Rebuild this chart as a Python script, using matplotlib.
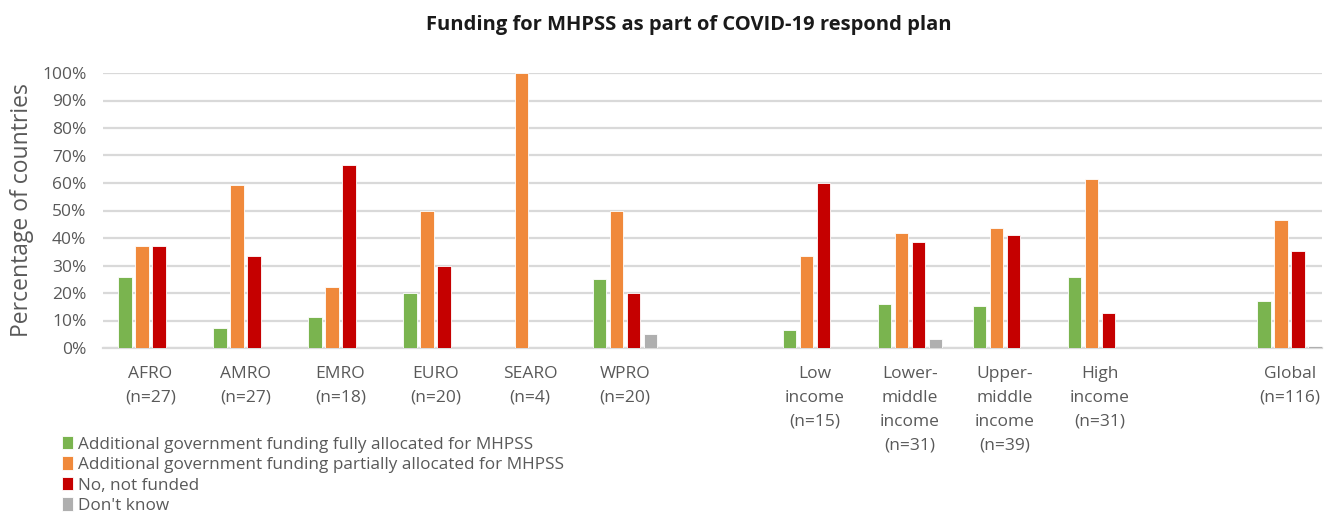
import matplotlib
matplotlib.use("Agg")
import matplotlib.pyplot as plt
import numpy as np

# categories ('' = empty spacer slot)
categories = ["AFRO\n(n=27)", "AMRO\n(n=27)", "EMRO\n(n=18)", "EURO\n(n=20)",
              "SEARO\n(n=4)", "WPRO\n(n=20)", "",
              "Low\nincome\n(n=15)", "Lower-\nmiddle\nincome\n(n=31)",
              "Upper-\nmiddle\nincome\n(n=39)", "High\nincome\n(n=31)", "",
              "Global\n(n=116)"]

series_names = ["Additional government funding fully allocated for MHPSS",
                "Additional government funding partially allocated for MHPSS",
                "No, not funded",
                "Don't know"]

# percentages (None for spacer slots)
fully = [25.9, 7.4, 11.1, 20.0, 0, 25.0, None, 6.7, 16.1, 15.4, 25.8, None, 17.2]
partially = [37.0, 59.3, 22.2, 50.0, 100.0, 50.0, None, 33.3, 41.9, 43.6, 61.3, None, 46.6]
not_funded = [37.0, 33.3, 66.7, 30.0, 0, 20.0, None, 60.0, 38.7, 41.0, 12.9, None, 35.3]
dont_know = [0, 0, 0, 0, 0, 5.0, None, 0, 3.2, 0, 0, None, 0.9]

colors = ["#7AB44F", "#F0893B", "#C50000", "#AFAFAF"]

plt.rcParams['font.family'] = ['Open Sans', 'DejaVu Sans']

fig = plt.figure(figsize=(13.25, 5.14), dpi=100)
ax = fig.add_axes([103 / 1325, 1 - 348 / 514, (1322 - 103) / 1325, (348 - 73) / 514])

x = np.arange(len(categories))
width = 0.142
step = 0.179
all_series = [fully, partially, not_funded, dont_know]
handles = []
for i, vals in enumerate(all_series):
    v = np.array([np.nan if a is None else a for a in vals], dtype=float) / 100
    h = ax.bar(x + (i - 1.5) * step, v, width, color=colors[i],
               edgecolor="white", linewidth=0.6, label=series_names[i], zorder=3)
    handles.append(h)

ax.set_ylim(0, 1)
ax.set_xlim(-0.5, 12.34)
ax.set_yticks(np.arange(0, 1.01, 0.1))
ax.set_yticklabels([f"{int(round(t * 100))}%" for t in np.arange(0, 1.01, 0.1)])
ax.set_xticks(x)
ax.set_xticklabels(categories, linespacing=1.65)
ax.tick_params(axis="both", length=0, colors="#595959", labelsize=12.5)
ax.tick_params(axis="x", pad=13)
ax.tick_params(axis="y", pad=12)
ax.grid(axis="y", color="#D9D9D9", linewidth=1.6, zorder=0)
for s in ["top", "right", "left"]:
    ax.spines[s].set_visible(False)
ax.spines["bottom"].set_color("#D9D9D9")
ax.spines["bottom"].set_linewidth(1.6)

ax.set_ylabel("Percentage of countries", fontsize=16.5, color="#595959", labelpad=6)

fig.text(0.52, 1 - 25 / 514, "Funding for MHPSS as part of COVID-19 respond plan",
         ha="center", va="center", fontsize=14.5, fontweight="bold", color="#1a1a1a")

fig.legend(handles=handles, loc="upper left", bbox_to_anchor=(55 / 1325, 1 - 429 / 514),
           frameon=False, fontsize=12.3, labelcolor="#595959", handlelength=0.65,
           handleheight=0.85, handletextpad=0.3, labelspacing=0.22, borderaxespad=0)

fig.savefig("out.png", dpi=100)
